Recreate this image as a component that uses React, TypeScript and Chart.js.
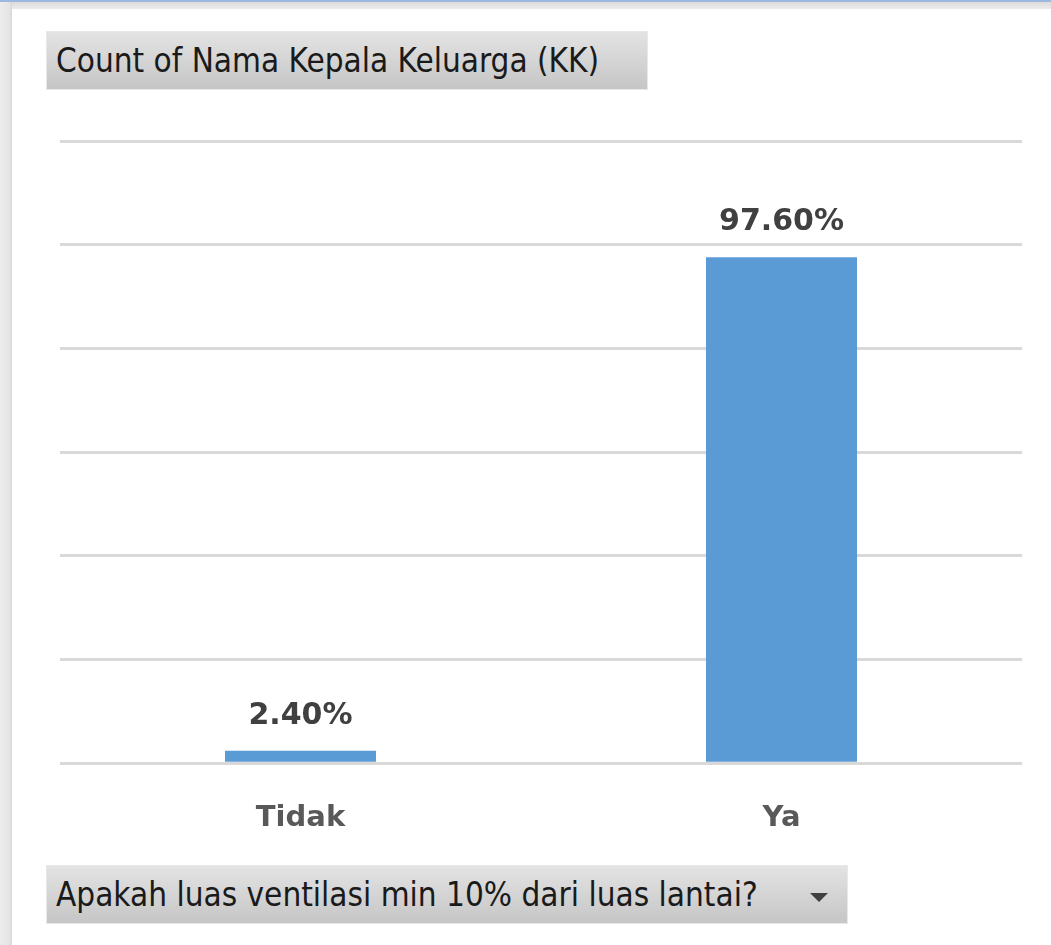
import React, { useEffect, useRef } from "react";
import { Chart, registerables } from "chart.js";

Chart.register(...registerables);

const categories = ["Tidak", "Ya"];
const values = [2.4, 97.6];
const valueLabels = ["2.40%", "97.60%"];
const yTicks = [0, 20, 40, 60, 80, 100, 120];
const titleText = "Count of Nama Kepala Keluarga (KK)";
const fieldText = "Apakah luas ventilasi min 10% dari luas lantai?";

const labelPlugin = {
  id: "valueLabels",
  afterDatasetsDraw(chart: any) {
    const ctx = chart.ctx;
    const meta = chart.getDatasetMeta(0);
    ctx.save();
    ctx.font = "bold 30px 'DejaVu Sans'";
    ctx.fillStyle = "#404040";
    ctx.textAlign = "center";
    ctx.textBaseline = "alphabetic";
    meta.data.forEach((bar: any, i: number) => {
      ctx.fillText(valueLabels[i], bar.x, bar.y - 27);
    });
    ctx.restore();
  },
};

const btnStyle: React.CSSProperties = {
  position: "absolute",
  background: "linear-gradient(#e3e3e3, #c6c6c6)",
  border: "1px solid #e8e8e8",
  boxSizing: "border-box",
  fontFamily: "'DejaVu Sans Condensed', 'DejaVu Sans', sans-serif",
  fontSize: 33,
  color: "#1a1a1a",
  display: "flex",
  alignItems: "center",
  paddingLeft: 9,
  whiteSpace: "nowrap",
};

export default function App() {
  const ref = useRef<HTMLCanvasElement>(null);
  useEffect(() => {
    if (!ref.current) return;
    const chart = new Chart(ref.current, {
      type: "bar",
      data: {
        labels: categories,
        datasets: [
          {
            data: values,
            backgroundColor: "#5b9bd5",
            categoryPercentage: 1,
            barPercentage: 0.314,
          },
        ],
      },
      options: {
        animation: false,
        responsive: false,
        maintainAspectRatio: false,
        layout: { padding: { left: 60, right: 29, top: 141, bottom: 71 } },
        plugins: { legend: { display: false }, tooltip: { enabled: false } },
        scales: {
          x: {
            grid: { display: false, drawTicks: false },
            border: { display: false },
            ticks: {
              padding: 38,
              color: "#595959",
              font: { family: "'DejaVu Sans'", size: 29, weight: "bold" },
            },
          },
          y: {
            min: 0,
            max: 120,
            afterBuildTicks: (s: any) => {
              s.ticks = yTicks.map((v) => ({ value: v }));
            },
            grid: { color: "#d9d9d9", lineWidth: 3, drawTicks: false },
            border: { display: false },
            ticks: { display: false },
          },
        },
      },
      plugins: [labelPlugin],
    });
    return () => chart.destroy();
  }, []);
  return (
    <div
      style={{
        position: "fixed",
        left: 0,
        top: 0,
        width: 1051,
        height: 945,
        background: "#ffffff",
        overflow: "hidden",
      }}
    >
      <div style={{ position: "absolute", left: 0, top: 0, width: 1051, height: 2, background: "#9db9e0" }} />
      <div style={{ position: "absolute", left: 0, top: 2, width: 1051, height: 7, background: "linear-gradient(#dcdcdc, #ececec)" }} />
      <div style={{ position: "absolute", left: 0, top: 2, width: 12, height: 943, background: "linear-gradient(90deg, #ececec, #e4e4e4 80%, #d6d6d6)" }} />
      <canvas
        ref={ref}
        width={1051}
        height={945}
        style={{ position: "absolute", left: 0, top: 0, width: 1051, height: 945 }}
      />
      <div style={{ ...btnStyle, left: 46, top: 31, width: 602, height: 59 }}>{titleText}</div>
      <div style={{ ...btnStyle, left: 46, top: 865, width: 802, height: 59 }}>
        {fieldText}
        <div
          style={{
            position: "absolute",
            left: 763,
            top: 27,
            width: 0,
            height: 0,
            borderLeft: "9px solid transparent",
            borderRight: "9px solid transparent",
            borderTop: "9px solid #404040",
          }}
        />
      </div>
    </div>
  );
}
